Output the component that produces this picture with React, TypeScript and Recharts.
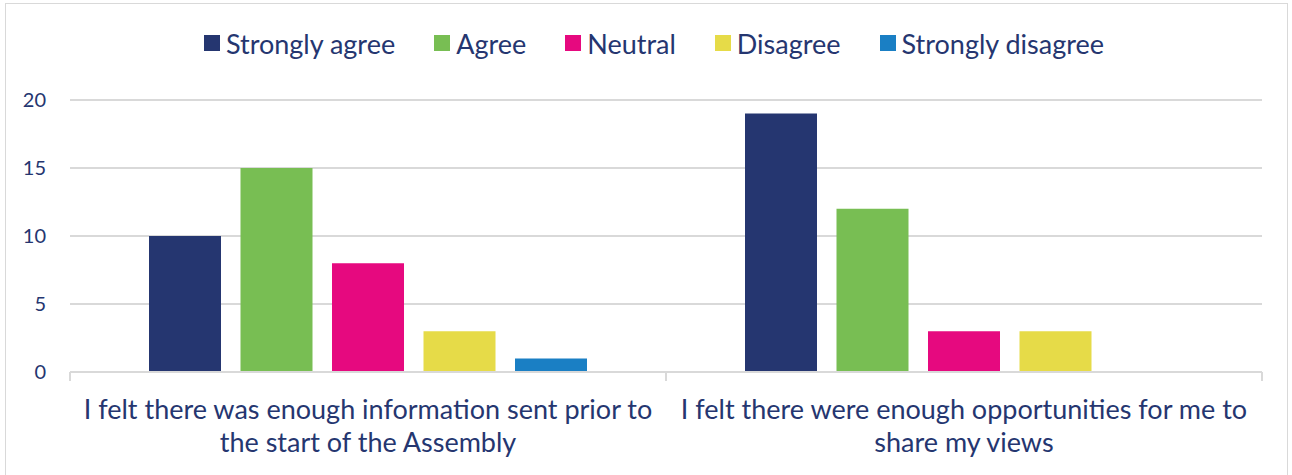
import React from "react";
import { BarChart, Bar, XAxis, YAxis, CartesianGrid, Legend } from "recharts";

const categories = [
  ["I felt there was enough information sent prior to", "the start of the Assembly"],
  ["I felt there were enough opportunities for me to", "share my views"],
];
const stronglyAgree = [10, 19];
const agree = [15, 12];
const neutral = [8, 3];
const disagree = [3, 3];
const stronglyDisagree = [1, 0];
const yTicks = [0, 5, 10, 15, 20];
const boundaryTicks = [0, 1, 2];

const seriesList = [
  { key: "sa", name: "Strongly agree", values: stronglyAgree, color: "#253670" },
  { key: "a", name: "Agree", values: agree, color: "#78BE53" },
  { key: "n", name: "Neutral", values: neutral, color: "#E6097F" },
  { key: "d", name: "Disagree", values: disagree, color: "#E6DB48" },
  { key: "sd", name: "Strongly disagree", values: stronglyDisagree, color: "#1A7FC4" },
];

const data = categories.map(function (lines, i) {
  const row: any = { cat: lines.join(" "), idx: i };
  seriesList.forEach(function (s) { row[s.key] = s.values[i]; });
  return row;
});

const FONT = "Lato, 'Noto Sans', sans-serif";
const TEXT = "#253670";
const GRID = "#d9d9d9";
const CAT_AXIS_H = 102;

function CategoryTick(props: any) {
  const { x, y, payload } = props;
  const lines = categories[payload.index] || [];
  return (
    <text x={x} y={y} textAnchor="middle" fill={TEXT} fontFamily={FONT} fontSize={27}>
      {lines.map(function (l, i) {
        return <tspan key={i} x={x} dy={i === 0 ? 39 : 33}>{l}</tspan>;
      })}
    </text>
  );
}

// the edges axis sits below the category axis, so reach back up to the plot's baseline
function EdgeTick(props: any) {
  const { x, y } = props;
  const top = y - CAT_AXIS_H;
  return <line x1={x} x2={x} y1={top} y2={top + 9} stroke={GRID} strokeWidth={2} />;
}

function LegendContent() {
  return (
    <div style={{ display: "flex", justifyContent: "center", alignItems: "center", height: 30, paddingLeft: 16, fontFamily: FONT, fontSize: 27, color: TEXT }}>
      {seriesList.map(function (s, i) {
        return (
          <div key={s.key} style={{ display: "flex", alignItems: "center", marginLeft: i === 0 ? 0 : 39 }}>
            <span style={{ width: 16, height: 16, background: s.color, display: "inline-block", marginRight: 6 }} />
            <span>{s.name}</span>
          </div>
        );
      })}
    </div>
  );
}

export default function App() {
  return (
    <div style={{ position: "absolute", left: 0, top: 0, width: 1292, height: 475, background: "#fff", overflow: "hidden" }}>
      <div style={{ position: "absolute", left: 5, top: 3, width: 1281, height: 490, border: "1px solid " + GRID }} />
      <div style={{ position: "absolute", left: 0, top: 0 }}>
        <BarChart
          width={1292}
          height={475}
          data={data}
          margin={{ top: 70, right: 30, bottom: 0, left: 0 }}
          barSize={72}
          barGap={19.5}
        >
          <CartesianGrid vertical={false} stroke={GRID} strokeWidth={2} />
          <Legend verticalAlign="top" align="center" content={LegendContent} wrapperStyle={{ top: 28, left: 0, width: 1292, height: 30 }} />
          <YAxis
            domain={[0, 20]}
            ticks={yTicks}
            axisLine={false}
            tickLine={false}
            width={70}
            tickSize={0}
            tickMargin={24}
            tick={{ fill: TEXT, fontFamily: FONT, fontSize: 20 }}
          />
          <XAxis
            xAxisId="edges"
            type="number"
            dataKey="idx"
            domain={[0, 2]}
            ticks={boundaryTicks}
            interval={0}
            height={1}
            axisLine={false}
            tickLine={false}
            tickSize={0}
            tickMargin={0}
            tick={EdgeTick}
            orientation="bottom"
          />
          <XAxis
            dataKey="cat"
            xAxisId={0}
            height={CAT_AXIS_H}
            axisLine={{ stroke: GRID, strokeWidth: 2 }}
            tickLine={false}
            tick={CategoryTick}
            interval={0}
          />
          {seriesList.map(function (s) {
            return (
              <Bar key={s.key} dataKey={s.key} name={s.name} fill={s.color} xAxisId={0} isAnimationActive={false} />
            );
          })}
        </BarChart>
      </div>
    </div>
  );
}
